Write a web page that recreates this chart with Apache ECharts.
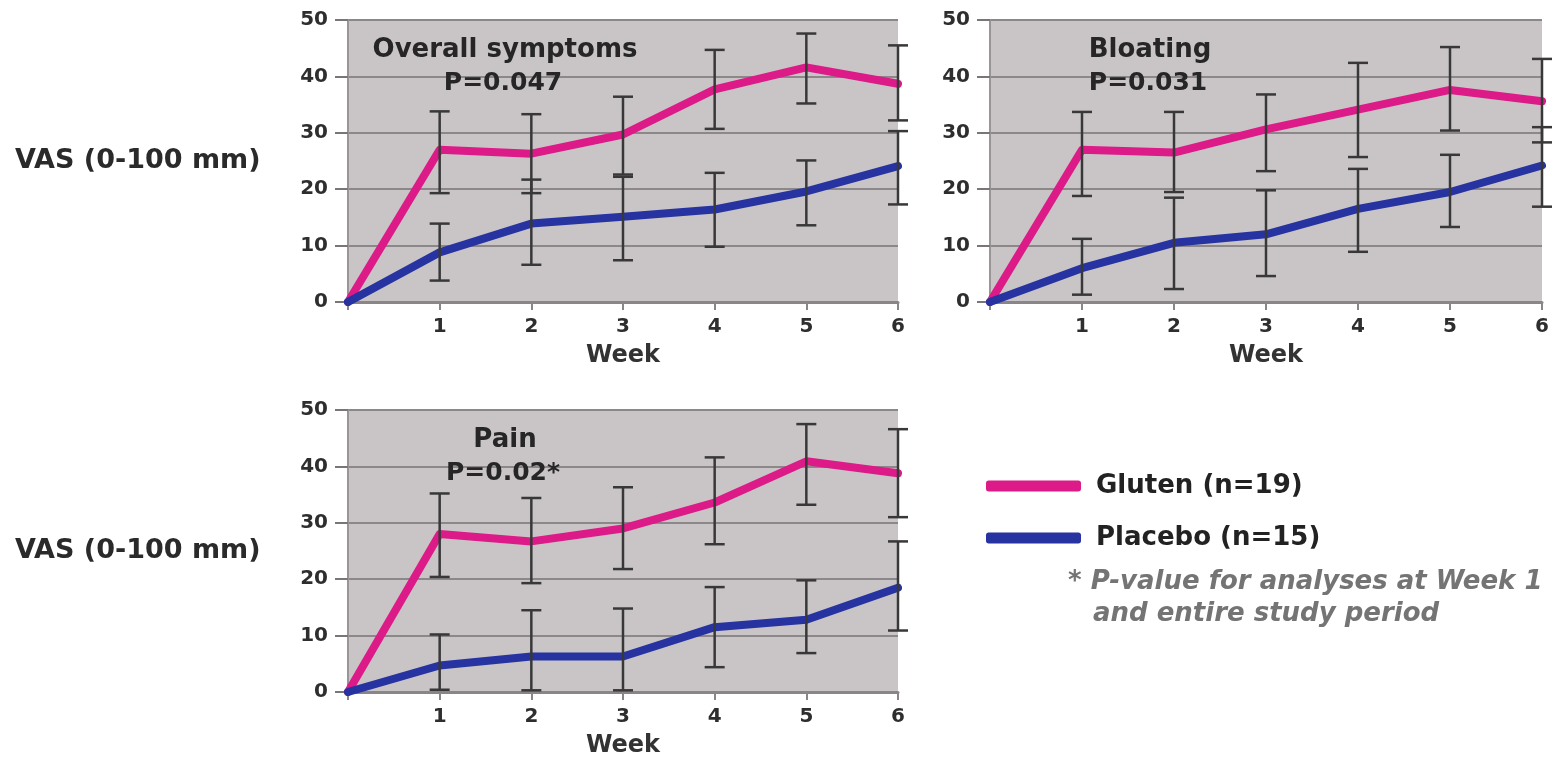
<!DOCTYPE html>
<html>
<head>
<meta charset="utf-8">
<script src="https://cdn.jsdelivr.net/npm/echarts@6/dist/echarts.min.js"></script>
<style>
  html, body { margin: 0; padding: 0; background: #ffffff; }
  #chart { width: 1558px; height: 762px; }
</style>
</head>
<body>
<div id="chart"></div>
<script>
// ---------- DATA ----------
const weeks = [0, 1, 2, 3, 4, 5, 6];
const yTicks = [0, 10, 20, 30, 40, 50];
const seriesNames = ['Gluten (n=19)', 'Placebo (n=15)'];

// Overall symptoms
const overallGlutenMean  = [0, 27.0, 26.3, 29.7, 37.7, 41.6, 38.7];
const overallGlutenHigh  = [null, 33.8, 33.3, 36.4, 44.7, 47.6, 45.5];
const overallGlutenLow   = [null, 19.3, 19.3, 22.6, 30.7, 35.2, 32.2];
const overallPlaceboMean = [0, 8.8, 13.9, 15.1, 16.4, 19.6, 24.1];
const overallPlaceboHigh = [null, 13.9, 21.7, 22.2, 22.9, 25.1, 30.3];
const overallPlaceboLow  = [null, 3.8, 6.6, 7.4, 9.8, 13.6, 17.3];

// Bloating
const bloatGlutenMean  = [0, 27.0, 26.5, 30.6, 34.1, 37.6, 35.6];
const bloatGlutenHigh  = [null, 33.7, 33.7, 36.8, 42.4, 45.2, 43.1];
const bloatGlutenLow   = [null, 18.8, 19.5, 23.2, 25.7, 30.4, 28.3];
const bloatPlaceboMean = [0, 6.0, 10.5, 12.0, 16.5, 19.5, 24.2];
const bloatPlaceboHigh = [null, 11.2, 18.5, 19.8, 23.6, 26.1, 31.0];
const bloatPlaceboLow  = [null, 1.3, 2.3, 4.6, 8.9, 13.3, 16.9];

// Pain
const painGlutenMean  = [0, 28.0, 26.7, 29.0, 33.6, 40.9, 38.8];
const painGlutenHigh  = [null, 35.2, 34.4, 36.3, 41.6, 47.5, 46.6];
const painGlutenLow   = [null, 20.4, 19.3, 21.8, 26.2, 33.2, 31.0];
const painPlaceboMean = [0, 4.7, 6.3, 6.3, 11.5, 12.8, 18.5];
const painPlaceboHigh = [null, 10.2, 14.5, 14.8, 18.6, 19.8, 26.7];
const painPlaceboLow  = [null, 0.4, 0.3, 0.3, 4.4, 6.9, 10.9];

const panelTitles = ['Overall symptoms', 'Bloating', 'Pain'];
const panelPValues = ['P=0.047', 'P=0.031', 'P=0.02*'];
const yAxisTitle = 'VAS (0-100 mm)';
const xAxisTitle = 'Week';
const footnoteLines = ['* P-value for analyses at Week 1', 'and entire study period'];

// ---------- STYLE ----------
const FONT = '"DejaVu Sans", sans-serif';
const PINK = '#dc1a88';
const BLUE = '#2733a0';
const BG = '#c9c5c7';
const GRIDLINE = '#8c8889';
const AXIS = '#8a8687';

const panels = [
  { left: 348, top: 20, width: 550, height: 282, titleX: 500,
    g: [overallGlutenMean, overallGlutenLow, overallGlutenHigh],
    p: [overallPlaceboMean, overallPlaceboLow, overallPlaceboHigh] },
  { left: 990, top: 20, width: 552, height: 282, titleX: 1145,
    g: [bloatGlutenMean, bloatGlutenLow, bloatGlutenHigh],
    p: [bloatPlaceboMean, bloatPlaceboLow, bloatPlaceboHigh] },
  { left: 348, top: 410, width: 550, height: 282, titleX: 500,
    g: [painGlutenMean, painGlutenLow, painGlutenHigh],
    p: [painPlaceboMean, painPlaceboLow, painPlaceboHigh] }
];

const grids = [], xAxes = [], yAxes = [], series = [], titles = [];

function errorRender(params, api) {
  const x = api.value(0), lo = api.value(1), hi = api.value(2);
  const pLo = api.coord([x, lo]);
  const pHi = api.coord([x, hi]);
  const hw = 10;
  const st = { stroke: '#383838', lineWidth: 2.5 };
  return {
    type: 'group',
    children: [
      { type: 'line', shape: { x1: pLo[0], y1: pLo[1], x2: pHi[0], y2: pHi[1] }, style: st },
      { type: 'line', shape: { x1: pHi[0] - hw, y1: pHi[1], x2: pHi[0] + hw, y2: pHi[1] }, style: st },
      { type: 'line', shape: { x1: pLo[0] - hw, y1: pLo[1], x2: pLo[0] + hw, y2: pLo[1] }, style: st }
    ]
  };
}

panels.forEach((pn, i) => {
  grids.push({
    left: pn.left, top: pn.top, width: pn.width, height: pn.height,
    show: true, backgroundColor: BG, borderWidth: 0, containLabel: false
  });
  xAxes.push({
    type: 'value', gridIndex: i, min: weeks[0], max: weeks[weeks.length - 1], interval: 1,
    name: xAxisTitle, nameLocation: 'middle', nameGap: 42,
    nameTextStyle: { fontFamily: FONT, fontWeight: 'bold', fontSize: 24, color: '#333' },
    axisLine: { show: true, onZero: false, lineStyle: { color: AXIS, width: 3 } },
    axisTick: { show: true, length: 8, lineStyle: { color: AXIS, width: 2 } },
    axisLabel: {
      margin: 15, fontFamily: FONT, fontWeight: 'bold', fontSize: 20, color: '#2e2e2e',
      formatter: v => (v === 0 ? '' : String(v))
    },
    splitLine: { show: false }
  });
  yAxes.push({
    type: 'value', gridIndex: i, min: yTicks[0], max: yTicks[yTicks.length - 1], interval: 10,
    axisLine: { show: true, lineStyle: { color: '#9a9697', width: 2 } },
    axisTick: { show: true, length: 13, lineStyle: { color: '#7a7677', width: 2 } },
    axisLabel: { margin: 20, fontFamily: FONT, fontWeight: 'bold', fontSize: 20, color: '#2e2e2e' },
    splitLine: { show: true, lineStyle: { color: GRIDLINE, width: 2 } }
  });

  const groups = [
    { name: seriesNames[0], color: PINK, d: pn.g },
    { name: seriesNames[1], color: BLUE, d: pn.p }
  ];
  groups.forEach(gr => {
    series.push({
      type: 'line', name: gr.name, xAxisIndex: i, yAxisIndex: i,
      data: weeks.map((w, k) => [w, gr.d[0][k]]),
      showSymbol: false, symbol: 'none', smooth: false,
      lineStyle: { color: gr.color, width: 8, join: 'round', cap: 'round' },
      itemStyle: { color: gr.color },
      z: 3, silent: true, animation: false
    });
  });
  groups.forEach(gr => {
    series.push({
      type: 'custom', name: gr.name + ' SD', xAxisIndex: i, yAxisIndex: i,
      renderItem: errorRender,
      data: weeks.map((w, k) => [w, gr.d[1][k], gr.d[2][k]]).filter(r => r[1] != null),
      encode: { x: 0, y: [1, 2] },
      z: 4, silent: true, animation: false
    });
  });

  titles.push({
    text: panelTitles[i], left: pn.titleX, top: pn.top + 12, textAlign: 'center',
    textStyle: { fontFamily: FONT, fontWeight: 'bold', fontSize: 26, color: '#262626' }
  });
  titles.push({
    text: panelPValues[i], left: pn.titleX - 2, top: pn.top + 46, textAlign: 'center',
    textStyle: { fontFamily: FONT, fontWeight: 'bold', fontSize: 25, color: '#262626' }
  });
});

const option = {
  backgroundColor: '#ffffff',
  animation: false,
  title: titles,
  grid: grids,
  xAxis: xAxes,
  yAxis: yAxes,
  series: series,
  legend: {
    orient: 'vertical', left: 981, top: 468,
    itemWidth: 95, itemHeight: 11, itemGap: 26, icon: 'roundRect',
    selectedMode: false,
    data: seriesNames,
    textStyle: { fontFamily: FONT, fontWeight: 'bold', fontSize: 26, color: '#222', padding: [0, 0, 0, 10] }
  },
  graphic: [
    { type: 'text', left: 15, top: 147,
      style: { text: yAxisTitle, font: 'bold 27px "DejaVu Sans"', fill: '#2a2a2a' } },
    { type: 'text', left: 15, top: 537,
      style: { text: yAxisTitle, font: 'bold 27px "DejaVu Sans"', fill: '#2a2a2a' } },
    { type: 'text', left: 1068, top: 569,
      style: { text: footnoteLines[0], font: 'italic bold 26px "DejaVu Sans"', fill: '#747474' } },
    { type: 'text', left: 1093, top: 601,
      style: { text: footnoteLines[1], font: 'italic bold 26px "DejaVu Sans"', fill: '#747474' } }
  ]
};

const chart = echarts.init(document.getElementById('chart'), null, { renderer: 'canvas' });
chart.setOption(option);
</script>
</body>
</html>
